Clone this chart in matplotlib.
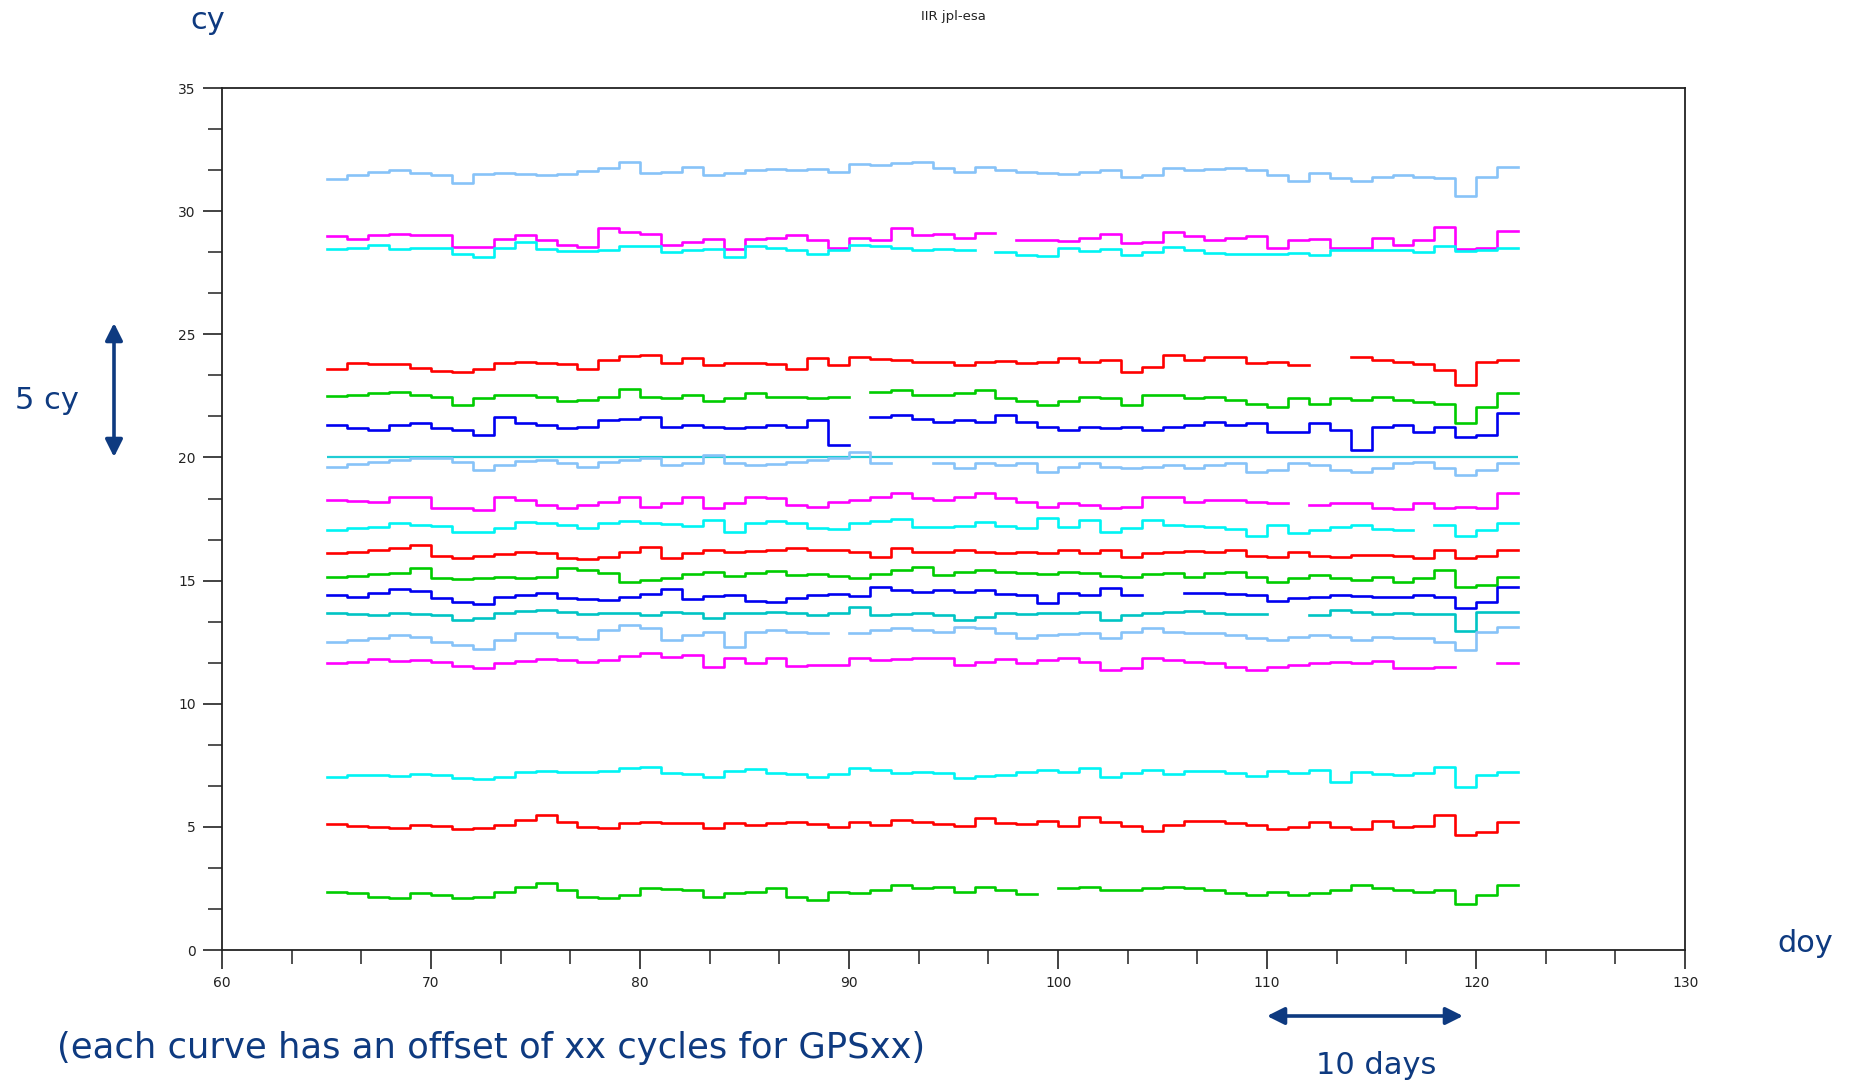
import numpy as np
import matplotlib.pyplot as plt
from matplotlib.patches import FancyArrowPatch
from matplotlib.ticker import MultipleLocator

nan = np.nan

# daily steps, value for day d covers [d, d+1)
days = np.arange(65, 122)
day_end = 122
ref_level = 20.0

lb_31 = [31.29, 31.46, 31.60, 31.69, 31.53, 31.46, 31.15, 31.50, 31.56, 31.50,
         31.46, 31.50, 31.64, 31.77, 32.00, 31.53, 31.60, 31.80, 31.46, 31.56,
         31.66, 31.73, 31.69, 31.73, 31.60, 31.90, 31.87, 31.96, 32.00, 31.77,
         31.60, 31.80, 31.69, 31.60, 31.53, 31.50, 31.60, 31.66, 31.39, 31.46,
         31.77, 31.66, 31.73, 31.77, 31.66, 31.46, 31.23, 31.53, 31.33, 31.23,
         31.39, 31.46, 31.39, 31.33, 30.60, 31.39, 31.80]
mg_29 = [28.98, 28.89, 29.03, 29.09, 29.03, 29.03, 28.55, 28.55, 28.89, 29.03,
         28.82, 28.62, 28.55, 29.30, 29.16, 29.07, 28.62, 28.75, 28.89, 28.48,
         28.89, 28.93, 29.03, 28.82, 28.52, 28.93, 28.82, 29.30, 29.03, 29.07,
         28.90, 29.12, nan, 28.82, 28.82, 28.80, 28.93, 29.09, 28.69, 28.75,
         29.16, 28.98, 28.82, 28.93, 28.98, 28.52, 28.82, 28.89, 28.52, 28.52,
         28.93, 28.62, 28.82, 29.36, 28.48, 28.52, 29.20]
cy_28 = [28.48, 28.52, 28.62, 28.48, 28.52, 28.52, 28.28, 28.12, 28.52, 28.75,
         28.48, 28.39, 28.39, 28.42, 28.58, 28.58, 28.35, 28.44, 28.48, 28.15,
         28.58, 28.52, 28.42, 28.25, 28.42, 28.62, 28.58, 28.52, 28.44, 28.48,
         28.44, nan, 28.35, 28.21, 28.17, 28.52, 28.39, 28.48, 28.21, 28.35,
         28.55, 28.42, 28.31, 28.25, 28.28, 28.28, 28.31, 28.21, 28.44, 28.44,
         28.44, 28.42, 28.35, 28.58, 28.39, 28.42, 28.52]
rd_24 = [23.61, 23.82, 23.79, 23.79, 23.65, 23.52, 23.48, 23.61, 23.82, 23.88,
         23.82, 23.79, 23.61, 23.95, 24.11, 24.15, 23.82, 24.02, 23.75, 23.82,
         23.84, 23.79, 23.61, 24.02, 23.75, 24.09, 23.98, 23.95, 23.88, 23.88,
         23.75, 23.88, 23.92, 23.82, 23.88, 24.02, 23.88, 23.95, 23.48, 23.68,
         24.15, 23.95, 24.09, 24.06, 23.84, 23.88, 23.75, nan, nan, 24.09,
         23.95, 23.88, 23.79, 23.55, 22.94, 23.88, 23.95]
gr_22 = [22.49, 22.53, 22.60, 22.67, 22.53, 22.44, 22.12, 22.40, 22.53, 22.53,
         22.44, 22.30, 22.33, 22.44, 22.76, 22.44, 22.40, 22.53, 22.30, 22.40,
         22.60, 22.46, 22.44, 22.40, 22.44, nan, 22.67, 22.73, 22.53, 22.53,
         22.60, 22.73, 22.40, 22.30, 22.12, 22.30, 22.44, 22.40, 22.12, 22.53,
         22.53, 22.40, 22.44, 22.33, 22.19, 22.06, 22.40, 22.19, 22.40, 22.33,
         22.46, 22.33, 22.26, 22.19, 21.38, 22.06, 22.60]
bl_21 = [21.31, 21.18, 21.11, 21.31, 21.38, 21.18, 21.11, 20.91, 21.65, 21.38,
         21.31, 21.18, 21.24, 21.52, 21.58, 21.65, 21.24, 21.31, 21.24, 21.18,
         21.24, 21.31, 21.24, 21.52, 20.50, nan, 21.65, 21.72, 21.58, 21.45,
         21.52, 21.45, 21.72, 21.45, 21.24, 21.11, 21.24, 21.18, 21.24, 21.11,
         21.24, 21.31, 21.45, 21.31, 21.38, 21.04, 21.04, 21.38, 21.11, 20.30,
         21.24, 21.31, 21.04, 21.24, 20.84, 20.91, 21.79]
lb_20 = [19.60, 19.73, 19.83, 19.89, 19.96, 19.96, 19.83, 19.49, 19.69, 19.87,
         19.89, 19.76, 19.62, 19.83, 19.89, 19.96, 19.69, 19.79, 20.10, 19.76,
         19.69, 19.73, 19.83, 19.89, 19.96, 20.23, 19.76, nan, nan, 19.76,
         19.56, 19.76, 19.69, 19.76, 19.42, 19.62, 19.76, 19.62, 19.56, 19.62,
         19.69, 19.56, 19.69, 19.76, 19.42, 19.49, 19.76, 19.69, 19.49, 19.42,
         19.56, 19.76, 19.83, 19.56, 19.29, 19.49, 19.76]
mg_18 = [18.27, 18.24, 18.20, 18.41, 18.41, 17.93, 17.93, 17.86, 18.41, 18.27,
         18.07, 17.93, 18.07, 18.20, 18.41, 18.00, 18.14, 18.41, 17.93, 18.14,
         18.41, 18.34, 18.07, 18.00, 18.20, 18.27, 18.41, 18.54, 18.34, 18.27,
         18.41, 18.54, 18.34, 18.20, 18.00, 18.14, 18.07, 17.93, 17.97, 18.41,
         18.41, 18.20, 18.27, 18.27, 18.20, 18.16, nan, 18.07, 18.14, 18.16,
         17.93, 17.89, 18.14, 17.93, 18.00, 17.93, 18.54]
cy_17 = [17.05, 17.12, 17.19, 17.32, 17.26, 17.21, 16.98, 16.98, 17.12, 17.39,
         17.32, 17.26, 17.12, 17.32, 17.43, 17.32, 17.30, 17.21, 17.46, 16.98,
         17.32, 17.43, 17.32, 17.12, 17.08, 17.32, 17.43, 17.49, 17.16, 17.19,
         17.21, 17.39, 17.21, 17.12, 17.53, 17.19, 17.46, 16.98, 17.12, 17.46,
         17.26, 17.21, 17.16, 17.08, 16.81, 17.26, 16.92, 17.05, 17.16, 17.26,
         17.08, 17.05, nan, 17.26, 16.81, 17.05, 17.35]
rd_16 = [16.11, 16.17, 16.24, 16.31, 16.44, 16.00, 15.90, 16.00, 16.08, 16.17,
         16.11, 15.90, 15.86, 15.97, 16.17, 16.38, 15.90, 16.11, 16.24, 16.17,
         16.21, 16.24, 16.31, 16.24, 16.24, 16.17, 15.97, 16.31, 16.17, 16.17,
         16.24, 16.17, 16.11, 16.17, 16.13, 16.24, 16.11, 16.24, 15.97, 16.11,
         16.17, 16.21, 16.17, 16.24, 16.00, 15.97, 16.17, 16.00, 15.94, 16.04,
         16.04, 16.00, 15.90, 16.24, 15.90, 16.00, 16.24]
gr_15 = [15.16, 15.19, 15.27, 15.29, 15.50, 15.09, 15.05, 15.09, 15.16, 15.09,
         15.16, 15.50, 15.43, 15.29, 14.96, 15.02, 15.09, 15.27, 15.36, 15.19,
         15.29, 15.40, 15.23, 15.27, 15.19, 15.09, 15.27, 15.43, 15.56, 15.23,
         15.36, 15.43, 15.36, 15.32, 15.27, 15.36, 15.29, 15.19, 15.16, 15.27,
         15.32, 15.16, 15.29, 15.36, 15.16, 14.96, 15.09, 15.23, 15.09, 15.02,
         15.16, 14.96, 15.09, 15.43, 14.75, 14.82, 15.16]
bl_14 = [14.41, 14.35, 14.48, 14.64, 14.59, 14.28, 14.14, 14.05, 14.35, 14.41,
         14.48, 14.28, 14.24, 14.21, 14.35, 14.45, 14.64, 14.24, 14.38, 14.41,
         14.18, 14.14, 14.28, 14.41, 14.45, 14.38, 14.72, 14.62, 14.55, 14.62,
         14.55, 14.62, 14.45, 14.41, 14.08, 14.48, 14.41, 14.68, 14.41, nan,
         nan, 14.48, 14.51, 14.45, 14.41, 14.18, 14.28, 14.35, 14.41, 14.38,
         14.35, 14.35, 14.41, 14.35, 13.87, 14.14, 14.75]
dc_14 = [13.67, 13.64, 13.60, 13.67, 13.64, 13.60, 13.40, 13.47, 13.67, 13.78,
         13.80, 13.74, 13.64, 13.70, 13.67, 13.60, 13.74, 13.67, 13.47, 13.67,
         13.70, 13.74, 13.67, 13.60, 13.67, 13.94, 13.60, 13.64, 13.67, 13.60,
         13.40, 13.53, 13.67, 13.64, 13.67, 13.70, 13.74, 13.40, 13.60, 13.67,
         13.74, 13.78, 13.70, 13.64, 13.64, nan, nan, 13.60, 13.80, 13.74,
         13.64, 13.67, 13.64, 13.64, 12.96, 13.74, 13.74]
lb_12 = [12.52, 12.59, 12.66, 12.79, 12.72, 12.52, 12.38, 12.21, 12.59, 12.88,
         12.86, 12.72, 12.61, 12.99, 13.20, 13.06, 12.59, 12.79, 12.93, 12.32,
         12.93, 12.99, 12.93, 12.88, nan, 12.86, 12.99, 13.06, 12.99, 12.93,
         13.12, 13.06, 12.86, 12.66, 12.79, 12.83, 12.88, 12.66, 12.93, 13.06,
         12.93, 12.86, 12.88, 12.79, 12.66, 12.59, 12.72, 12.79, 12.72, 12.59,
         12.72, 12.66, 12.66, 12.52, 12.18, 12.93, 13.12]
mg_12 = [11.67, 11.71, 11.80, 11.75, 11.78, 11.71, 11.53, 11.44, 11.64, 11.75,
         11.80, 11.78, 11.71, 11.78, 11.94, 12.07, 11.88, 11.98, 11.50, 11.84,
         11.64, 11.84, 11.53, 11.57, 11.57, 11.84, 11.78, 11.80, 11.84, 11.84,
         11.57, 11.71, 11.80, 11.64, 11.78, 11.84, 11.71, 11.37, 11.44, 11.84,
         11.78, 11.71, 11.67, 11.50, 11.37, 11.50, 11.57, 11.64, 11.71, 11.67,
         11.75, 11.44, 11.44, 11.50, nan, nan, 11.64]
cy_7 = [7.04, 7.11, 7.11, 7.06, 7.15, 7.11, 6.97, 6.93, 7.04, 7.24,
        7.28, 7.24, 7.24, 7.28, 7.38, 7.42, 7.17, 7.15, 7.01, 7.28,
        7.34, 7.17, 7.15, 7.04, 7.15, 7.38, 7.31, 7.20, 7.24, 7.17,
        6.97, 7.06, 7.11, 7.24, 7.31, 7.24, 7.38, 7.01, 7.17, 7.31,
        7.15, 7.28, 7.28, 7.17, 7.06, 7.28, 7.17, 7.31, 6.83, 7.24,
        7.15, 7.11, 7.17, 7.45, 6.63, 7.11, 7.24]
rd_5 = [5.12, 5.03, 5.01, 4.94, 5.08, 5.03, 4.90, 4.94, 5.08, 5.28,
        5.48, 5.21, 4.98, 4.94, 5.14, 5.21, 5.17, 5.14, 4.94, 5.14,
        5.08, 5.14, 5.21, 5.12, 4.98, 5.21, 5.08, 5.28, 5.21, 5.12,
        5.03, 5.35, 5.14, 5.12, 5.25, 5.03, 5.41, 5.21, 5.03, 4.85,
        5.08, 5.25, 5.25, 5.14, 5.08, 4.90, 5.01, 5.21, 5.01, 4.90,
        5.25, 5.01, 5.03, 5.48, 4.67, 4.80, 5.21]
gr_2 = [2.37, 2.30, 2.17, 2.10, 2.30, 2.23, 2.10, 2.17, 2.37, 2.57,
        2.71, 2.44, 2.17, 2.10, 2.23, 2.50, 2.46, 2.44, 2.17, 2.30,
        2.37, 2.50, 2.17, 2.03, 2.37, 2.30, 2.44, 2.64, 2.50, 2.57,
        2.37, 2.57, 2.44, 2.27, nan, 2.50, 2.57, 2.44, 2.44, 2.50,
        2.57, 2.50, 2.44, 2.30, 2.23, 2.37, 2.23, 2.30, 2.44, 2.64,
        2.50, 2.44, 2.37, 2.44, 1.88, 2.23, 2.64]

LB, MG, CY, RD, GR, BL, DC = ('#87c3f8', '#ff00ff', '#00f4f4', '#ff0000',
                              '#00cc00', '#0000f0', '#00c4c4')
series = [(lb_31, LB), (mg_29, MG), (cy_28, CY), (rd_24, RD), (gr_22, GR),
          (bl_21, BL), (lb_20, LB), (mg_18, MG), (cy_17, CY), (rd_16, RD),
          (gr_15, GR), (bl_14, BL), (dc_14, DC), (lb_12, LB), (mg_12, MG),
          (cy_7, CY), (rd_5, RD), (gr_2, GR)]

navy = '#0e3a80'

fig = plt.figure(figsize=(18.6, 10.88), dpi=100)
ax = fig.add_axes([0.1194, 0.1268, 0.7866, 0.7923])

ax.hlines(ref_level, days[0], day_end, color='#20ccd4', lw=1.6, zorder=1)
for vals, col in series:
    x = np.append(days, day_end)
    y = np.append(vals, vals[-1])
    ax.plot(x, y, drawstyle='steps-post', color=col, lw=1.9, zorder=2)

ax.set_xlim(60, 130)
ax.set_ylim(0, 35)
ax.xaxis.set_major_locator(MultipleLocator(10))
ax.xaxis.set_minor_locator(MultipleLocator(10 / 3))
ax.yaxis.set_major_locator(MultipleLocator(5))
ax.yaxis.set_minor_locator(MultipleLocator(5 / 3))
ax.tick_params(which='major', direction='out', length=14, width=1.2,
               labelsize=10, pad=5, colors='#222222')
ax.tick_params(which='minor', direction='out', length=10, width=1.1,
               colors='#222222')
for s in ax.spines.values():
    s.set_linewidth(1.3)
    s.set_color('#222222')

fig.text(0.5124, 0.985, 'IIR jpl-esa', ha='center', va='center',
         fontsize=9.5, color='#222222')

# hand-written annotations around the plot
fig.text(0.1118, 0.981, 'cy', ha='center', va='center', fontsize=22, color=navy)
fig.text(0.9704, 0.133, 'doy', ha='center', va='center', fontsize=22, color=navy)
fig.text(0.0253, 0.632, '5 cy', ha='center', va='center', fontsize=22, color=navy)
fig.text(0.7398, 0.021, '10 days', ha='center', va='center', fontsize=22,
         color=navy)
fig.text(0.0306, 0.037, '(each curve has an offset of xx cycles for GPSxx)',
         ha='left', va='center', fontsize=25.5, color=navy)

arrow = dict(arrowstyle='<|-|>', color=navy, lw=2.6, mutation_scale=26,
             shrinkA=0, shrinkB=0)
fig.add_artist(FancyArrowPatch((114 / 1860, 1 - 323 / 1088),
                               (114 / 1860, 1 - 457 / 1088),
                               transform=fig.transFigure, **arrow))
fig.add_artist(FancyArrowPatch((1267 / 1860, 1 - 1016 / 1088),
                               (1463 / 1860, 1 - 1016 / 1088),
                               transform=fig.transFigure, **arrow))

fig.savefig('out.png', dpi=100)
